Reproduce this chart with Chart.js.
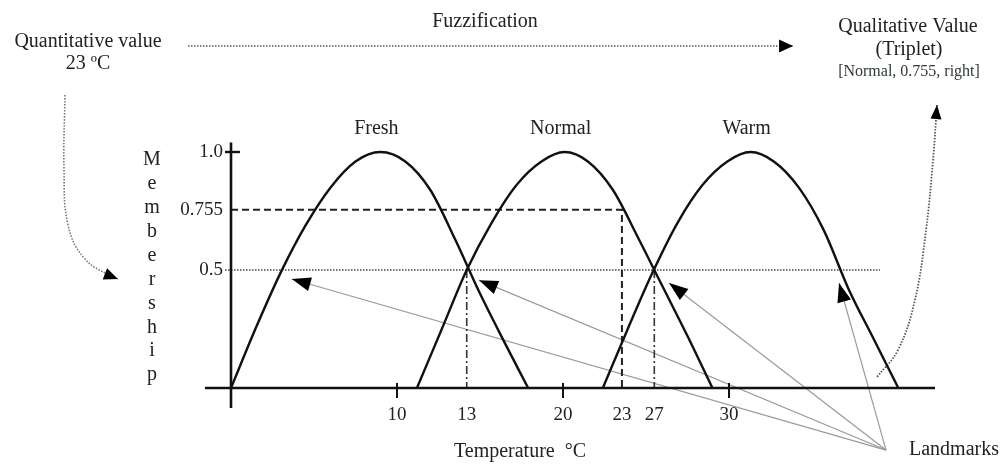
<!DOCTYPE html>
<html>
<head>
<meta charset="utf-8">
<script src="https://cdn.jsdelivr.net/npm/chart.js@4.4.1/dist/chart.umd.min.js"></script>
<style>
html,body{margin:0;padding:0;background:#fff;}
canvas{display:block;}
</style>
</head>
<body>
<canvas id="c" width="1002" height="466"></canvas>
<script>
// ---- membership curves (temperature °C, membership) ----
const freshX  = [0, 1.5, 3.0, 4.5, 6.0, 7.5, 9.0, 10.5, 12.0, 13.5, 15.0, 16.5, 17.9];
const freshY  = [0, 0.255, 0.49, 0.69, 0.85, 0.96, 1.0, 0.96, 0.84, 0.63, 0.40, 0.19, 0];
const normalX = [11.2, 12.7, 14.2, 15.7, 17.2, 18.7, 20.1, 21.5, 23.0, 24.5, 26.0, 27.5, 29.0];
const normalY = [0, 0.25, 0.50, 0.70, 0.86, 0.96, 1.0, 0.96, 0.84, 0.64, 0.43, 0.22, 0];
const warmX   = [22.4, 23.9, 25.4, 26.9, 28.4, 29.9, 31.3, 32.7, 34.2, 35.7, 37.2, 38.7, 40.2];
const warmY   = [0, 0.25, 0.49, 0.70, 0.86, 0.96, 1.0, 0.96, 0.85, 0.67, 0.42, 0.21, 0];
const setNames = ["Fresh", "Normal", "Warm"];
const setPeaks = [9.0, 20.1, 31.3];

// ---- axes / ticks ----
const xTickMarks   = [10, 20, 30];
const xLabelPos    = [10, 14.2, 20, 23.55, 25.5, 30];
const xLabels      = ["10", "13", "20", "23", "27", "30"];
const yTickValues  = [1.0, 0.755, 0.5];
const yTickLabels  = ["1.0", "0.755", "0.5"];

// ---- fuzzification example ----
const inputX = 23.55;       // 23 °C on the drawing
const inputMembership = 0.755;
const crossingX = [14.2, 25.5];   // landmarks 13 and 27

// ---- landmark pointer arrows (source -> tips) ----
const landmarkSrcX = 39.46, landmarkSrcY = -0.263;
const landmarkTipX = [3.66, 14.94, 26.39, 36.63];
const landmarkTipY = [0.462, 0.457, 0.445, 0.445];

// ---- curved dotted arrows ----
const leftArrowX  = [-10.0, -10.06, -9.82, -8.86, -7.29, -6.81];
const leftArrowY  = [1.2415, 0.924, 0.691, 0.551, 0.475, 0.462];
const rightArrowX = [38.92, 40.18, 41.2, 41.87, 42.29, 42.53];
const rightArrowY = [0.047, 0.161, 0.373, 0.669, 0.966, 1.199];
const fuzzArrowX  = [-2.59, 33.86];
const fuzzArrowY  = [1.449, 1.449];

const zip = (xs, ys) => xs.map((x, i) => ({x, y: ys[i]}));
const INK = '#111';

const line = (data, extra) => Object.assign({
  data, showLine: true, pointRadius: 0, borderColor: INK, borderWidth: 2.4,
  fill: false, tension: 0
}, extra || {});

const datasets = [
  line(zip(freshX, freshY),   {cubicInterpolationMode: 'monotone'}),
  line(zip(normalX, normalY), {cubicInterpolationMode: 'monotone'}),
  line(zip(warmX, warmY),     {cubicInterpolationMode: 'monotone'}),
  // x axis and y axis
  line([{x: -1.57, y: 0}, {x: 42.41, y: 0}], {borderWidth: 2.6}),
  line([{x: 0, y: -0.085}, {x: 0, y: 1.04}], {borderWidth: 2.6}),
  line([{x: -0.36, y: 1.0}, {x: 0.54, y: 1.0}], {borderWidth: 2.4}),
  // dashed 0.755 construction
  line([{x: 0, y: inputMembership}, {x: inputX, y: inputMembership}, {x: inputX, y: 0}],
       {borderWidth: 2, borderDash: [7, 4], borderColor: '#222'}),
  // dotted 0.5 line
  line([{x: -0.36, y: 0.5}, {x: 39.1, y: 0.5}],
       {borderWidth: 1.6, borderDash: [1.5, 1.5], borderColor: '#444'}),
  // curved dotted arrows + fuzzification arrow
  line(zip(leftArrowX, leftArrowY),
       {borderWidth: 1.6, borderDash: [1.5, 1.5], borderColor: '#777', tension: 0.4}),
  line(zip(rightArrowX, rightArrowY),
       {borderWidth: 1.8, borderDash: [1.5, 1.5], borderColor: '#555', tension: 0.4}),
  line(zip(fuzzArrowX, fuzzArrowY),
       {borderWidth: 1.6, borderDash: [1.5, 1.5], borderColor: '#555'})
];
// x tick marks
xTickMarks.forEach(v => datasets.push(line([{x: v, y: -0.042}, {x: v, y: 0.021}], {borderWidth: 2})));
// dash-dot landmark verticals
crossingX.forEach(v => datasets.push(line([{x: v, y: 0.5}, {x: v, y: 0}],
  {borderWidth: 1.6, borderDash: [8, 3, 2, 3], borderColor: '#333'})));
// landmark pointer lines
landmarkTipX.forEach((v, i) => datasets.push(line([{x: landmarkSrcX, y: landmarkSrcY}, {x: v, y: landmarkTipY[i]}],
  {borderWidth: 1.2, borderColor: '#9a9a9a'})));

const SERIF = '"Liberation Serif", "DejaVu Serif", serif';

function head(ctx, fx, fy, tx, ty, len, hw) {
  const a = Math.atan2(ty - fy, tx - fx);
  ctx.save();
  ctx.translate(tx, ty);
  ctx.rotate(a);
  ctx.beginPath();
  ctx.moveTo(0, 0);
  ctx.lineTo(-len, -hw);
  ctx.lineTo(-len, hw);
  ctx.closePath();
  ctx.fillStyle = '#000';
  ctx.fill();
  ctx.restore();
}

const overlay = {
  id: 'overlay',
  afterDatasetsDraw(chart) {
    const ctx = chart.ctx, sx = chart.scales.x, sy = chart.scales.y;
    const X = v => sx.getPixelForValue(v), Y = v => sy.getPixelForValue(v);
    ctx.save();
    // arrowheads
    landmarkTipX.forEach((v, i) => head(ctx, X(landmarkSrcX), Y(landmarkSrcY), X(v), Y(landmarkTipY[i]), 19, 7));
    const n = leftArrowX.length - 1;
    head(ctx, X(leftArrowX[n - 1]), Y(leftArrowY[n - 1]), X(leftArrowX[n]), Y(leftArrowY[n]), 14, 6);
    const m = rightArrowX.length - 1;
    head(ctx, X(rightArrowX[m - 1]), Y(rightArrowY[m - 1]), X(rightArrowX[m]), Y(rightArrowY[m]), 14, 5.5);
    head(ctx, X(fuzzArrowX[0]), Y(fuzzArrowY[0]), X(fuzzArrowX[1]), Y(fuzzArrowY[1]), 14, 6.5);

    ctx.fillStyle = '#222';
    ctx.textBaseline = 'middle';
    ctx.font = '19px ' + SERIF;
    // x tick labels
    ctx.textAlign = 'center';
    xLabels.forEach((t, i) => ctx.fillText(t, X(xLabelPos[i]), 415));
    // y tick labels
    ctx.textAlign = 'right';
    yTickLabels.forEach((t, i) => ctx.fillText(t, 223, Y(yTickValues[i])));
    // set names
    ctx.textAlign = 'center';
    ctx.font = '20px ' + SERIF;
    setNames.forEach((t, i) => ctx.fillText(t, X(setPeaks[i]) - 4, 129));
    // Membership vertical
    const word = 'Membership';
    for (let i = 0; i < word.length; i++) ctx.fillText(word[i], 152, 160 + i * 23.9);
    // annotations
    ctx.fillText('Fuzzification', 485, 22);
    ctx.fillText('Quantitative value', 88, 42);
    ctx.fillText('23 \u00baC', 88, 64);
    ctx.fillText('Qualitative Value', 908, 27);
    ctx.fillText('(Triplet)', 909, 50);
    ctx.fillText('Temperature  \u00b0C', 520, 452);
    ctx.textAlign = 'left';
    ctx.fillText('Landmarks', 909, 450);
    ctx.textAlign = 'center';
    ctx.font = '16px ' + SERIF;
    ctx.fillStyle = '#2f3a30';
    ctx.fillText('[Normal, 0.755, right]', 909, 72);
    ctx.restore();
  }
};

new Chart(document.getElementById('c'), {
  type: 'scatter',
  data: {datasets},
  options: {
    responsive: false,
    animation: false,
    events: [],
    layout: {padding: 0},
    plugins: {legend: {display: false}, tooltip: {enabled: false}, title: {display: false}},
    scales: {
      x: {type: 'linear', display: false, min: -231 / 16.6, max: (1002 - 231) / 16.6},
      y: {type: 'linear', display: false, min: (388 - 466) / 236, max: 388 / 236}
    }
  },
  plugins: [overlay]
});
</script>
</body>
</html>
